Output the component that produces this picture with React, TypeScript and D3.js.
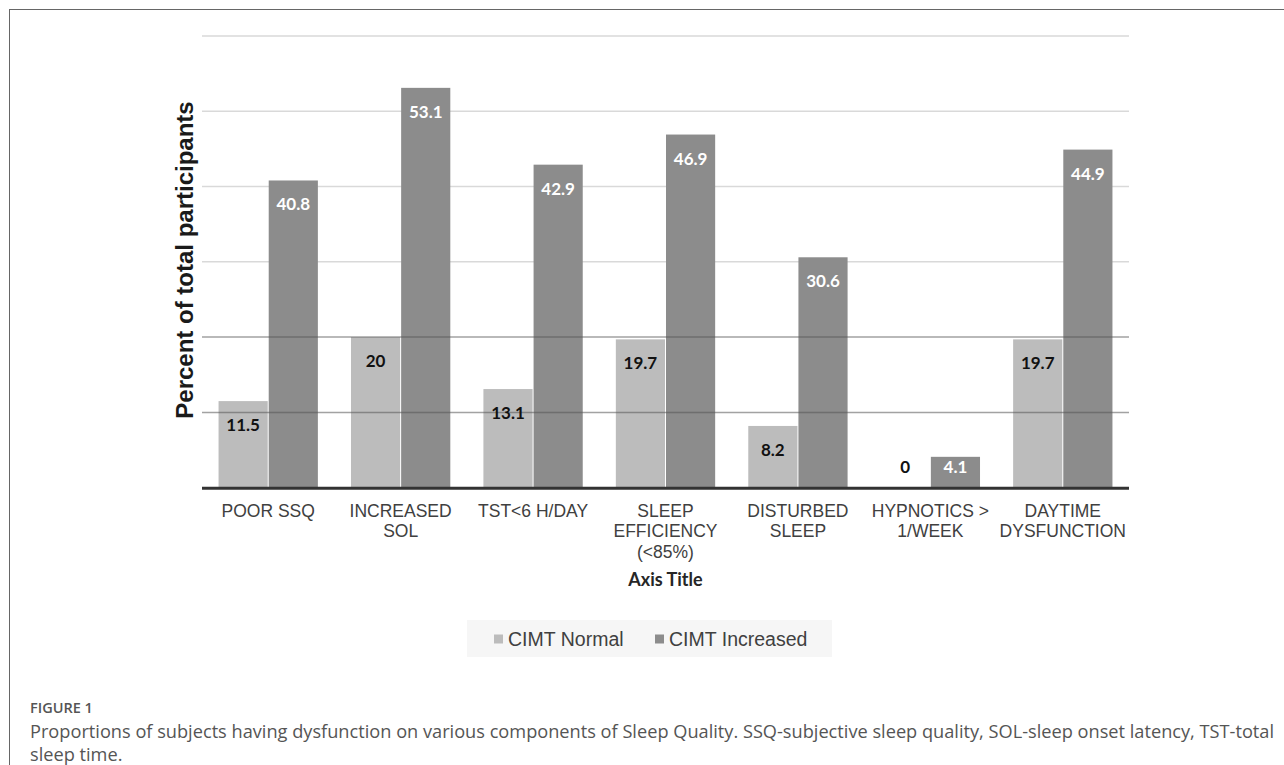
import React from "react";
import * as d3 from "d3";

const categories: string[][] = [
  ["POOR SSQ"],
  ["INCREASED", "SOL"],
  ["TST<6 H/DAY"],
  ["SLEEP", "EFFICIENCY", "(<85%)"],
  ["DISTURBED", "SLEEP"],
  ["HYPNOTICS >", "1/WEEK"],
  ["DAYTIME", "DYSFUNCTION"],
];
const cimtNormal: number[] = [11.5, 20, 13.1, 19.7, 8.2, 0, 19.7];
const cimtIncreased: number[] = [40.8, 53.1, 42.9, 46.9, 30.6, 4.1, 44.9];
const seriesNames: string[] = ["CIMT Normal", "CIMT Increased"];
const yTicks: number[] = [10, 20, 30, 40, 50, 60];

const COLORS = ["#bcbcbc", "#8c8c8c"];
const LABEL_COLORS = ["#111111", "#ffffff"];

export default function App() {
  const W = 1284;
  const H = 765;
  const left = 202;
  const right = 1129;
  const baseY = 487.7;
  const topY = 35.9;

  const x0 = d3
    .scaleBand<number>()
    .domain(d3.range(categories.length))
    .range([left, right])
    .paddingInner(0.25)
    .paddingOuter(0.125);
  const x1 = d3
    .scaleBand<number>()
    .domain([0, 1])
    .range([0, x0.bandwidth()])
    .paddingInner(0.02);
  const y = d3.scaleLinear().domain([0, 60]).range([baseY, topY]);

  const series = [cimtNormal, cimtIncreased];
  const labelFont = "Lato, 'Open Sans', sans-serif";
  const arial = "'Liberation Sans', Arial, sans-serif";
  const capFont = "'Open Sans', sans-serif";

  return (
    <div style={{ position: "absolute", left: 0, top: 0 }}>
      <svg width={W} height={H} style={{ display: "block", background: "#fff" }}>
        {/* frame */}
        <line x1={9} y1={9.5} x2={W} y2={9.5} stroke="#666" strokeWidth={1} />
        <line x1={9.5} y1={9} x2={9.5} y2={H} stroke="#666" strokeWidth={1} />

        {/* light gridlines behind bars */}
        {yTicks
          .filter((t) => t >= 30)
          .map((t) => (
            <line key={"g" + t} x1={left} x2={right} y1={y(t)} y2={y(t)} stroke="#d9d9d9" strokeWidth={1.5} />
          ))}

        {/* bars */}
        {series.map((vals, s) =>
          vals.map((v, i) => {
            const bx = (x0(i) as number) + (x1(s) as number);
            return (
              <rect
                key={`b${s}-${i}`}
                x={bx}
                y={y(v)}
                width={x1.bandwidth()}
                height={baseY - y(v)}
                fill={COLORS[s]}
              />
            );
          })
        )}

        {/* darker gridlines over bars */}
        {yTicks
          .filter((t) => t < 30)
          .map((t) => (
            <line
              key={"d" + t}
              x1={left}
              x2={right}
              y1={y(t)}
              y2={y(t)}
              stroke="#555"
              strokeOpacity={0.55}
              strokeWidth={1.5}
            />
          ))}

        {/* baseline */}
        <line x1={left} x2={right} y1={baseY + 0.5} y2={baseY + 0.5} stroke="#333" strokeWidth={3} />

        {/* value labels */}
        {series.map((vals, s) =>
          vals.map((v, i) => {
            const cx = (x0(i) as number) + (x1(s) as number) + x1.bandwidth() / 2;
            const cy = Math.min(y(v) + 24, baseY - 21);
            return (
              <text
                key={`l${s}-${i}`}
                x={cx}
                y={cy + 6}
                textAnchor="middle"
                fontFamily={labelFont}
                fontWeight={700}
                fontSize={17}
                fill={LABEL_COLORS[s]}
              >
                {String(v)}
              </text>
            );
          })
        )}

        {/* x tick labels */}
        {categories.map((lines, i) => {
          const cx = (x0(i) as number) + x0.bandwidth() / 2;
          return (
            <text key={"c" + i} textAnchor="middle" fontFamily={arial} fontSize={17.5} fill="#404040">
              {lines.map((ln, k) => (
                <tspan key={k} x={cx} y={516.5 + k * 20.5}>
                  {ln}
                </tspan>
              ))}
            </text>
          );
        })}

        {/* axis titles */}
        <text
          x={(left + right) / 2}
          y={586}
          textAnchor="middle"
          fontFamily={labelFont}
          fontWeight={700}
          fontSize={18}
          fill="#262626"
        >
          Axis Title
        </text>
        <text
          transform={`translate(193, 260) rotate(-90)`}
          textAnchor="middle"
          fontFamily={arial}
          fontWeight={700}
          fontSize={24}
          fill="#1a1a1a"
        >
          Percent of total participants
        </text>

        {/* legend */}
        <rect x={467} y={620} width={365} height={37} fill="#f6f6f6" />
        {seriesNames.map((name, s) => {
          const lx = [494, 655][s];
          return (
            <g key={"lg" + s}>
              <rect x={lx} y={634.5} width={9} height={9} fill={COLORS[s]} />
              <text x={lx + 14} y={645.5} fontFamily={arial} fontSize={19.5} fill="#404040">
                {name}
              </text>
            </g>
          );
        })}

        {/* caption */}
        <text x={30} y={713} fontFamily={capFont} fontSize={14.5} fontWeight={600} fill="#555">
          FIGURE 1
        </text>
        <text x={30} y={738} fontFamily={capFont} fontSize={18.2} fill="#555">
          Proportions of subjects having dysfunction on various components of Sleep Quality. SSQ-subjective sleep
          quality, SOL-sleep onset latency, TST-total
        </text>
        <text x={30} y={761} fontFamily={capFont} fontSize={18.2} fill="#555">
          sleep time.
        </text>
      </svg>
    </div>
  );
}
